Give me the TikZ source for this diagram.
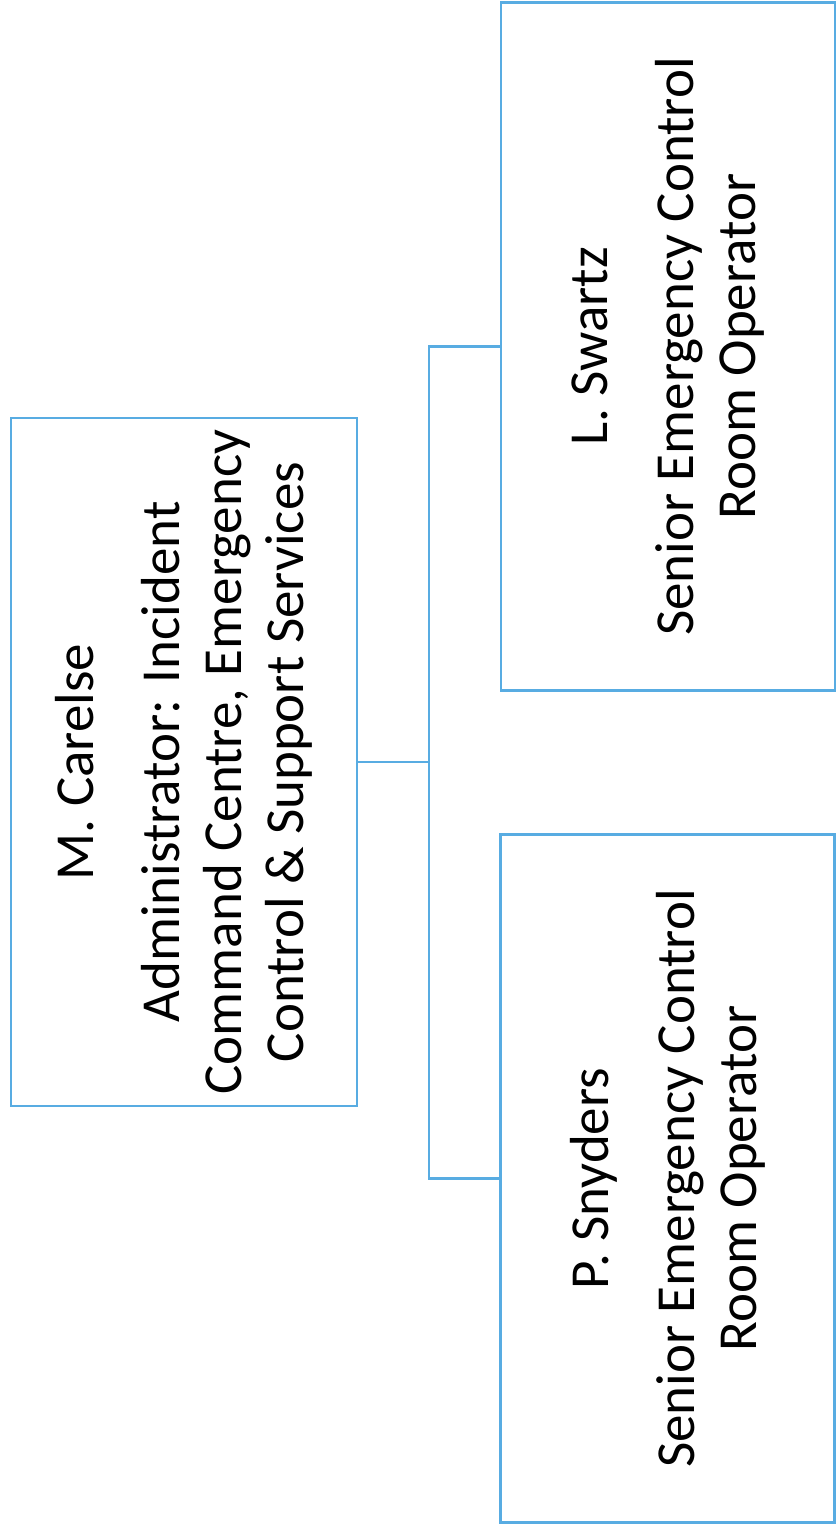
\documentclass[tikz,border=0pt]{standalone}
\usepackage{fontspec}
\setmainfont{Carlito}
\definecolor{chartblue}{RGB}{88,172,226}
\tikzset{
  post/.style={draw=chartblue, line width=1.1pt, rotate=90, align=center, inner sep=0pt,
    minimum width=344pt, font=\fontsize{27.5}{31}\selectfont},
  link/.style={draw=chartblue, line width=1.1pt}
}
\begin{document}
\begin{tikzpicture}[x=0.5pt,y=-0.5pt]
    \useasboundingbox (0,0) rectangle (839,1528);
    \node [post, minimum height=173pt] (carelse) at (184,762)
      {M. Carelse\\[12pt]Administrator: Incident\\Command Centre, Emergency\\Control \& Support Services};
    \node [post, minimum height=167pt] (swartz) at (668,346.5)
      {L. Swartz\\[12pt]Senior Emergency Control\\Room Operator};
    \node [post, minimum height=167pt] (snyders) at (667.5,1178.5)
      {P. Snyders\\[12pt]Senior Emergency Control\\Room Operator};
    \coordinate (hub) at ([xshift=35.5pt]carelse.south);
    \draw [link] (carelse.south)--(hub);
    \draw [link] (hub) |- (swartz.north);
    \draw [link] (hub) |- (snyders.north);
  \end{tikzpicture}
\end{document}
